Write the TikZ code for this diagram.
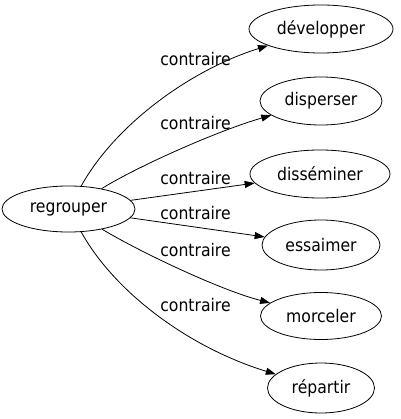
\documentclass[tikz,border=0pt]{standalone}
\usepackage{fontspec}
\setmainfont{DejaVu Sans Condensed}
\usetikzlibrary{shapes.geometric,arrows.meta}
\begin{document}
\begin{tikzpicture}[x=1pt,y=-1pt,
  word/.style={ellipse,draw,line width=0.8pt,inner sep=0pt,minimum height=48pt,font=\fontsize{17.4}{20}\selectfont},
  rel/.style={font=\fontsize{17.4}{20}\selectfont,inner sep=0pt},
  link/.style={line width=0.8pt,-{Triangle[length=10pt,width=7pt]}}]
\useasboundingbox (0,0) rectangle (400,419);
\node[word,minimum width=133pt,minimum height=46pt] (reg) at (68.5,209) {regrouper};
\node[word,minimum width=144pt] (dev) at (321,29) {développer};
\node[word,minimum width=122pt] (disp) at (321,101) {disperser};
\node[word,minimum width=140pt] (diss) at (320,174) {disséminer};
\node[word,minimum width=118pt,minimum height=50pt] (ess) at (321,245) {essaimer};
\node[word,minimum width=121pt,minimum height=47pt] (morc) at (321,316) {morceler};
\node[word,minimum width=107pt,minimum height=50pt] (rep) at (321,388) {répartir};
\node[rel] (l1) at (195.5,59) {contraire};
\node[rel] (l2) at (195.5,123) {contraire};
\node[rel] (l3) at (195.5,178) {contraire};
\node[rel] (l4) at (195.5,213) {contraire};
\node[rel] (l5) at (195.5,250) {contraire};
\node[rel] (l6) at (195.5,305) {contraire};
\draw[link] (reg) .. controls (115,125) and (190,70) .. (dev);
\draw[link] (reg) .. controls (140,165) and (220,130) .. (disp);
\draw[link] (reg) -- (diss);
\draw[link] (reg) -- (ess);
\draw[link] (reg) .. controls (140,252) and (220,290) .. (morc);
\draw[link] (reg) .. controls (115,293) and (190,348) .. (rep);
\end{tikzpicture}
\end{document}
